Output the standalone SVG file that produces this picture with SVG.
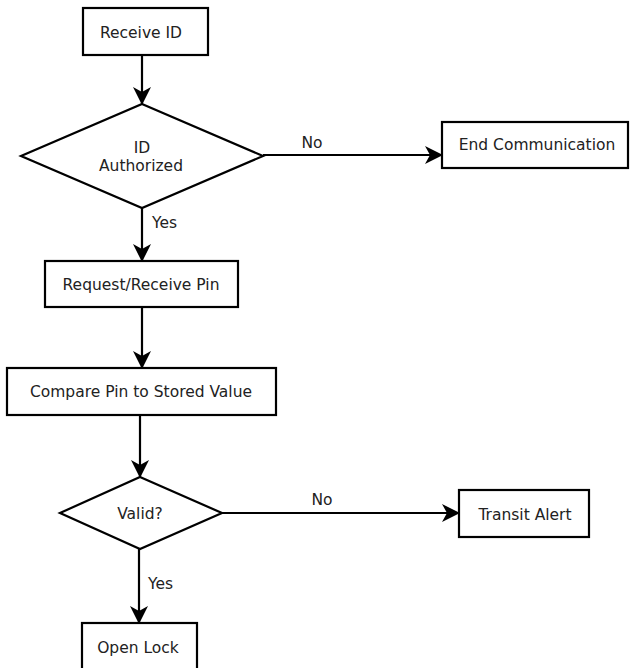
<svg xmlns="http://www.w3.org/2000/svg" width="630" height="668" viewBox="0 0 630 668">
  <style>
    .shape { fill: #ffffff; stroke: #000000; stroke-width: 2.2; }
    .edge { fill: none; stroke: #000000; stroke-width: 2.2; }
    text { font-family: "DejaVu Sans", "Liberation Sans", sans-serif; font-size: 15.5px; font-weight: normal; fill: #222222; }
    .c { text-anchor: middle; }
  </style>
  <defs>
    <marker id="arrow" markerUnits="userSpaceOnUse" markerWidth="18" markerHeight="18" refX="17" refY="9" orient="auto" viewBox="0 0 18 18">
      <path d="M0,0 L18,9 L0,18 L5,9 Z" fill="#000000"/>
    </marker>
  </defs>
  <rect x="0" y="0" width="630" height="668" fill="#ffffff"/>

  <g id="connectors">
    <line class="edge" x1="142" y1="55" x2="142" y2="104" marker-end="url(#arrow)"/>
    <line class="edge" x1="263" y1="155" x2="442" y2="155" marker-end="url(#arrow)"/>
    <text x="312" y="148" class="c">No</text>
    <line class="edge" x1="142" y1="208" x2="142" y2="261" marker-end="url(#arrow)"/>
    <text x="152" y="228">Yes</text>
    <line class="edge" x1="142" y1="307" x2="142" y2="368" marker-end="url(#arrow)"/>
    <line class="edge" x1="140" y1="415" x2="140" y2="477" marker-end="url(#arrow)"/>
    <line class="edge" x1="222" y1="513" x2="459" y2="513" marker-end="url(#arrow)"/>
    <text x="322" y="505" class="c">No</text>
    <line class="edge" x1="139" y1="549" x2="139" y2="623" marker-end="url(#arrow)"/>
    <text x="148" y="589">Yes</text>
  </g>

  <g id="receive-id">
    <rect class="shape" x="83" y="8" width="125" height="47"/>
    <text x="141" y="38" class="c">Receive ID</text>
  </g>

  <g id="id-authorized">
    <polygon class="shape" points="142,104 263,156 142,208 21,156"/>
    <text x="142" y="153" class="c">ID</text>
    <text x="141" y="171" class="c">Authorized</text>
  </g>

  <g id="end-communication">
    <rect class="shape" x="442" y="122" width="186" height="46"/>
    <text x="537" y="150" class="c">End Communication</text>
  </g>

  <g id="request-receive-pin">
    <rect class="shape" x="45" y="261" width="193" height="46"/>
    <text x="141" y="290" class="c">Request/Receive Pin</text>
  </g>

  <g id="compare-pin">
    <rect class="shape" x="7" y="368" width="269" height="47"/>
    <text x="141" y="397" class="c">Compare Pin to Stored Value</text>
  </g>

  <g id="valid">
    <polygon class="shape" points="140,477 222,513 140,549 60,513"/>
    <text x="140" y="519" class="c">Valid?</text>
  </g>

  <g id="transit-alert">
    <rect class="shape" x="459" y="490" width="130" height="47"/>
    <text x="525" y="520" class="c">Transit Alert</text>
  </g>

  <g id="open-lock">
    <rect class="shape" x="82" y="623" width="115" height="60"/>
    <text x="138" y="653" class="c">Open Lock</text>
  </g>
</svg>
